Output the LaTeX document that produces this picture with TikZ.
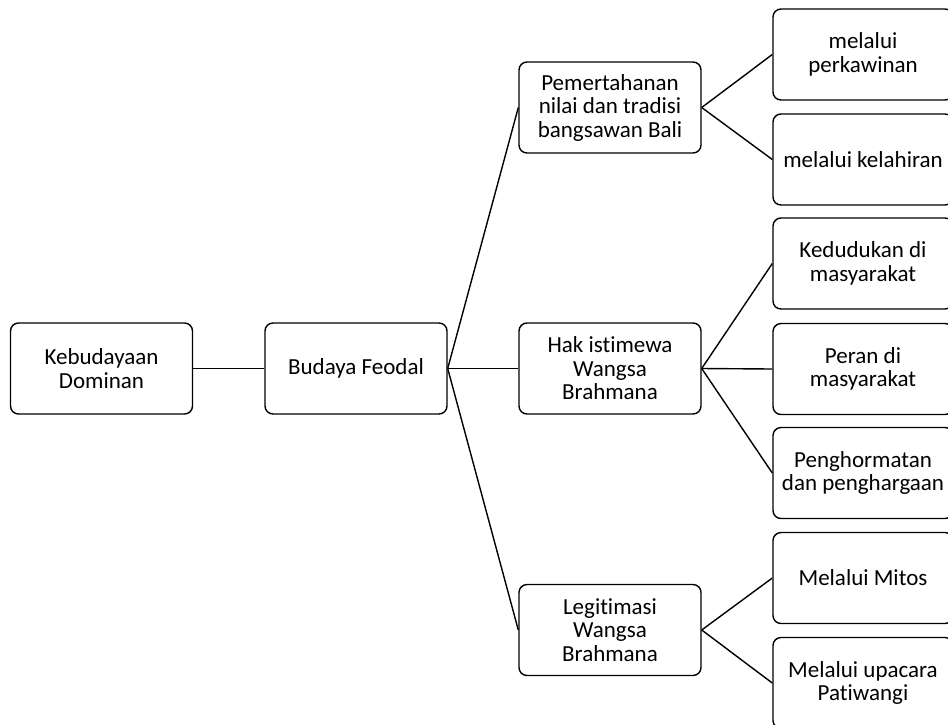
\documentclass[tikz,border=0pt]{standalone}
\usepackage{fontspec}
\setmainfont{Carlito}[Ligatures={NoCommon}]
\begin{document}
\begin{tikzpicture}[x=1pt,y=-1pt,
  box/.style={draw=black, line width=1.4pt, rounded corners=8pt, fill=white,
    minimum width=182pt, minimum height=91pt, inner sep=0pt,
    align=center, font=\fontsize{23}{23.5}\selectfont},
  rbox/.style={box, minimum width=180pt},
  link/.style={draw=black, line width=1.4pt}]
\useasboundingbox (0,0) rectangle (948,724);
\clip (0,0) rectangle (948,724);
\fill[white] (0,0) rectangle (948,724);
\node[box] (kd) at (101.5,368.5) {Kebudayaan\\Dominan};
\node[box] (bf) at (356,368.5) {Budaya Feodal};
\node[box] (pn) at (610,107.5) {Pemertahanan\\nilai dan tradisi\\bangsawan Bali};
\node[box] (hk) at (610,368.5) {Hak istimewa\\Wangsa\\Brahmana};
\node[box] (lg) at (610,630) {Legitimasi\\Wangsa\\Brahmana};
\node[rbox] (r1) at (863,54.5) {melalui\\perkawinan};
\node[rbox] (r2) at (863,159.5) {melalui kelahiran};
\node[rbox] (r3) at (863,263.5) {Kedudukan di\\masyarakat};
\node[rbox] (r4) at (863,369) {Peran di\\masyarakat};
\node[rbox] (r5) at (863,473) {Penghormatan\\dan penghargaan};
\node[rbox] (r6) at (863,578) {Melalui Mitos};
\node[rbox] (r7) at (863,683) {Melalui upacara\\Patiwangi};
\draw[link] (kd.east) -- (bf.west);
\draw[link] (bf.east) -- (pn.west);
\draw[link] (bf.east) -- (hk.west);
\draw[link] (bf.east) -- (lg.west);
\draw[link] (pn.east) -- (r1.west);
\draw[link] (pn.east) -- (r2.west);
\draw[link] (hk.east) -- (r3.west);
\draw[link] (hk.east) -- (r4.west);
\draw[link] (hk.east) -- (r5.west);
\draw[link] (lg.east) -- (r6.west);
\draw[link] (lg.east) -- (r7.west);
\end{tikzpicture}
\end{document}
